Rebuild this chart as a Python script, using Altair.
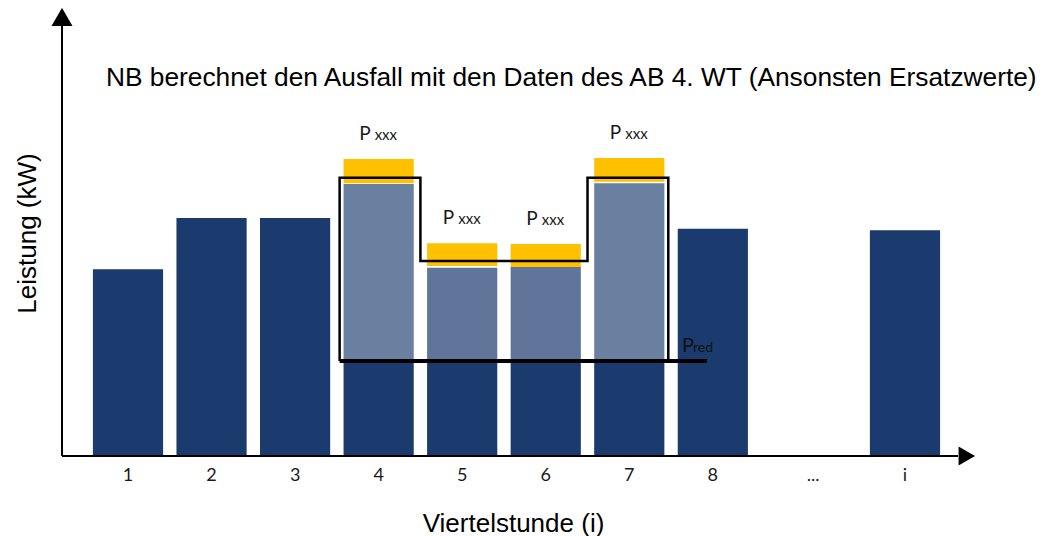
import altair as alt
import pandas as pd

# ---- data ----
categories = ["1", "2", "3", "4", "5", "6", "7", "8", "...", "i"]
slots = [1, 2, 3, 4, 5, 6, 7, 8, 9.2, 10.3]
bar_tops = [41.7, 53.1, 53.1, 60.7, 42.0, 42.2, 60.9, 50.7, None, 50.4]

ab_cats = ["4", "5", "6", "7"]
ab_slots = [4, 5, 6, 7]
ab_light_tops = [60.7, 42.0, 42.2, 60.9]
xxx_low = [60.9, 42.4, 42.2, 61.2]
xxx_high = [66.3, 47.5, 47.3, 66.5]
ab_profile = [62.1, 43.5, 43.5, 62.1]

p_red = 21.2
p_red_end = 7.93

title_text = "NB berechnet den Ausfall mit den Daten des AB 4. WT (Ansonsten Ersatzwerte)"
x_title = "Viertelstunde (i)"
y_title = "Leistung (kW)"

# ---- styling ----
NAVY = "#1b3a6d"
ORANGE = "#ffc000"
LIGHT_DOMAIN = ab_cats
LIGHT_RANGE = ["#6a80a0", "#5f7599", "#5f7599", "#6a80a0"]
HALF = 0.42
OUT_HALF = 0.467
ARIAL = "Liberation Sans"
LABEL_FONT = "Lato"

xs = alt.Scale(domain=[0.21, 11.138], nice=False, zero=False)
ys = alt.Scale(domain=[0, 100], nice=False, zero=False)

xa = alt.Axis(title=x_title, labels=False, ticks=False, domain=False, grid=False,
              titleFont=ARIAL, titleFontSize=26, titleFontWeight="normal",
              titleColor="black", titleX=451, titleY=75, titleBaseline="alphabetic",
              titleAlign="center")
ya = alt.Axis(title=y_title, labels=False, ticks=False, domain=False, grid=False,
              titleFont=ARIAL, titleFontSize=26, titleFontWeight="normal",
              titleColor="black", titleX=-27, titleY=225, titleAngle=270,
              titleBaseline="alphabetic", titleAlign="center")


def X(f):
    return alt.X(f, type="quantitative", scale=xs, axis=xa)


def Y(f):
    return alt.Y(f, type="quantitative", scale=ys, axis=ya)


# ---- tables ----
rows = []
for c, s, t in zip(categories, slots, bar_tops):
    if t is None:
        continue
    top = p_red if c in ab_cats else t
    rows.append({"cat": c, "x0": s - HALF, "x1": s + HALF, "lo": 0.0, "hi": top})
dark = pd.DataFrame(rows)

light = pd.DataFrame({
    "cat": ab_cats,
    "x0": [s - HALF for s in ab_slots],
    "x1": [s + HALF for s in ab_slots],
    "lo": [p_red] * len(ab_cats),
    "hi": ab_light_tops,
})

caps = pd.DataFrame({
    "cat": ab_cats,
    "slot": ab_slots,
    "x0": [s - HALF for s in ab_slots],
    "x1": [s + HALF for s in ab_slots],
    "lo": xxx_low,
    "hi": xxx_high,
})

ox, oy = [ab_slots[0] - OUT_HALF], [p_red]
for i, (s, v) in enumerate(zip(ab_slots, ab_profile)):
    left = s - OUT_HALF if i == 0 else s - 0.5
    right = s + OUT_HALF if i == len(ab_slots) - 1 else s + 0.5
    ox += [left, right]
    oy += [v, v]
ox.append(ab_slots[-1] + OUT_HALF)
oy.append(p_red)
outline = pd.DataFrame({"x": ox, "y": oy, "idx": list(range(len(ox)))})

pred_df = pd.DataFrame({"x0": [ab_slots[0] - OUT_HALF], "x1": [p_red_end], "y": [p_red]})

ticks = pd.DataFrame({"cat": categories, "slot": slots, "zero": [0.0] * len(categories)})

x_end = 10.934
y_end = 97.0
axis_x = pd.DataFrame({"x0": [0.21], "x1": [x_end], "y": [0.0]})
axis_y = pd.DataFrame({"x": [0.21], "y0": [0.0], "y1": [y_end]})
arrow_r = pd.DataFrame({"x": [11.04], "y": [0.0]})
arrow_u = pd.DataFrame({"x": [0.21], "y": [98.0]})

red_lbl = pd.DataFrame({"x": [p_red_end], "y": [p_red]})

# ---- layers ----
dark_bars = alt.Chart(dark).mark_rect(color=NAVY).encode(
    x=X("x0"), x2="x1", y=Y("lo"), y2="hi")

light_bars = alt.Chart(light).mark_rect().encode(
    x=X("x0"), x2="x1", y=Y("lo"), y2="hi",
    color=alt.Color("cat:N", scale=alt.Scale(domain=LIGHT_DOMAIN, range=LIGHT_RANGE), legend=None))

cap_bars = alt.Chart(caps).mark_rect(color=ORANGE).encode(
    x=X("x0"), x2="x1", y=Y("lo"), y2="hi")

outline_line = alt.Chart(outline).mark_line(color="black", strokeWidth=2.5, strokeJoin="miter").encode(
    x=X("x"), y=Y("y"), order="idx:Q")

pred_rule = alt.Chart(pred_df).mark_rule(color="black", strokeWidth=4).encode(
    x=X("x0"), x2="x1", y=Y("y"))

ax_x = alt.Chart(axis_x).mark_rule(color="black", strokeWidth=2).encode(
    x=X("x0"), x2="x1", y=Y("y"))
ax_y = alt.Chart(axis_y).mark_rule(color="black", strokeWidth=2).encode(
    x=X("x"), y=Y("y0"), y2="y1")
arr_r = alt.Chart(arrow_r).mark_point(shape="triangle-right", filled=True, color="black",
                                      size=361, opacity=1).encode(x=X("x"), y=Y("y"))
arr_u = alt.Chart(arrow_u).mark_point(shape="triangle-up", filled=True, color="black",
                                      size=441, opacity=1).encode(x=X("x"), y=Y("y"))

tick_text = alt.Chart(ticks).mark_text(font=LABEL_FONT, fontSize=18, color="#1a1a1a",
                                       baseline="middle", dy=20).encode(
    x=X("slot"), y=Y("zero"), text="cat:N")

p_text = alt.Chart(caps).mark_text(text="P", font=LABEL_FONT, fontSize=19, color="#1a1a1a",
                                   align="right", baseline="alphabetic", dx=-8, dy=-19).encode(
    x=X("slot"), y=Y("hi"))
xxx_text = alt.Chart(caps).mark_text(text="xxx", font=LABEL_FONT, fontSize=15, color="#1a1a1a",
                                     align="left", baseline="alphabetic", dx=-4, dy=-19).encode(
    x=X("slot"), y=Y("hi"))

pr_text = alt.Chart(red_lbl).mark_text(text="P", font=LABEL_FONT, fontSize=20, color="#111111",
                                       align="left", baseline="alphabetic", dx=-25, dy=-9).encode(
    x=X("x"), y=Y("y"))
red_text = alt.Chart(red_lbl).mark_text(text="red", font=LABEL_FONT, fontSize=14, color="#111111",
                                        align="left", baseline="alphabetic", dx=-14, dy=-9).encode(
    x=X("x"), y=Y("y"))

chart = alt.layer(
    dark_bars, light_bars, cap_bars, outline_line, pred_rule,
    ax_x, ax_y, arr_r, arr_u, tick_text, p_text, xxx_text, pr_text, red_text,
).properties(
    width=913, height=448,
    autosize=alt.AutoSizeParams(type="none"),
    padding={"left": 54, "top": 0, "right": 75, "bottom": 80},
    title=alt.TitleParams(text=title_text, anchor="start", orient="top", offset=-104,
                          frame="group", dx=44, font=ARIAL, fontSize=26.3, fontWeight="normal",
                          color="black", baseline="alphabetic"),
    background="white",
).configure_view(stroke=None)

chart.save("out.html", embed_options={"renderer": "svg", "actions": False})
